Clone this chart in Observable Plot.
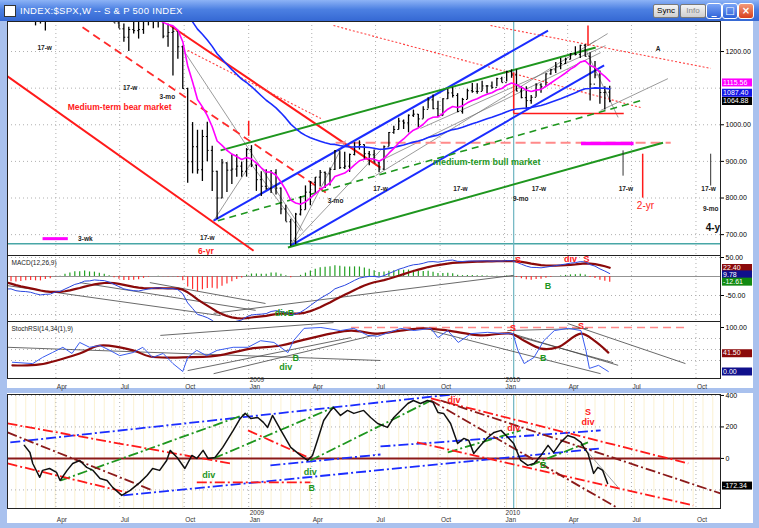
<!DOCTYPE html>
<html>
<head>
<meta charset="utf-8">
<script src="https://cdn.jsdelivr.net/npm/d3@7"></script>
<script src="https://cdn.jsdelivr.net/npm/@observablehq/plot@0.6"></script>
<style>
  html,body{margin:0;padding:0;}
  body{width:759px;height:528px;overflow:hidden;position:relative;background:#a9c1ee;font-family:"Liberation Sans",Arial,sans-serif;}
  .abs{position:absolute;}
  .win{position:absolute;background:#fff;}
  .btn{position:absolute;top:4px;height:12px;font:8px "Liberation Sans",Arial,sans-serif;line-height:12px;text-align:center;border:1px solid #7a7a7a;border-radius:2px;background:linear-gradient(#f4f4f4,#cfcfcf);color:#000;}
  .wbtn{position:absolute;top:3px;width:14px;height:14px;border:1px solid #fff;border-radius:3px;background:linear-gradient(#7aa4f6,#2d62d8);color:#fff;font:bold 10px "DejaVu Sans",sans-serif;text-align:center;line-height:14px;}
</style>
</head>
<body>
<div class="abs" style="left:0;top:0;width:759px;height:21px;background:linear-gradient(#8db3f6,#4c80e2 45%,#3568d3);"></div>
<div class="abs" style="left:4px;top:5px;width:10px;height:10px;background:#fff;border:1px solid #333;"></div>
<div class="abs" style="left:20px;top:5px;color:#fff;font:9.5px 'Liberation Sans',Arial,sans-serif;letter-spacing:0.3px;">INDEX:$SPX,W -- S &amp; P 500 INDEX</div>
<div class="btn" style="left:653px;width:24px;">Sync</div>
<div class="btn" style="left:680px;width:24px;color:#888;">Info</div>
<div class="wbtn" style="left:706px;">_</div>
<div class="wbtn" style="left:722px;">□</div>
<div class="wbtn" style="left:738px;background:linear-gradient(#f39a7a,#d8401c);">×</div>
<div class="win" style="left:7px;top:21px;width:746px;height:367px;"></div>
<div class="win" style="left:7px;top:393px;width:746px;height:130px;"></div>
<script>
// ---------------- DATA ----------------
// weekly closes used to warm up the averages (Jun-Dec 2007)
const closes2007 = [1503,1530,1552,1534,1459,1433,1453,1445,1479,1474,1454,1484,1525,1527,1557,1561,1501,1535,1509,1453,1458,1440,1481,1504,1468,1484,1478];
// weekly bars 2008
const highs2008 = [1471,1420,1405,1355,1396,1396,1368,1368,1389,1335,1321,1331,1353,1380,1378,1395,1404,1421,1422,1426,1440,1406,1405,1370,1372,1336,1285,1275,1266,1292,1285,1297,1313,1300,1304,1303,1275,1265,1255,1215,1100,1006,985,985,1007,941,873,905,896,919,918,898];
const lows2008  = [1411,1364,1313,1270,1322,1316,1320,1315,1331,1270,1275,1256,1312,1312,1330,1324,1373,1383,1385,1386,1373,1362,1360,1335,1317,1278,1262,1225,1200,1248,1234,1247,1270,1262,1264,1235,1212,1133,1179,1097,840,866,865,845,899,818,741,798,815,837,857,857];
const closes2008= [1411,1401,1325,1331,1396,1331,1349,1353,1331,1294,1288,1330,1316,1370,1332,1390,1398,1413,1388,1426,1375,1400,1361,1360,1318,1278,1262,1239,1260,1257,1260,1296,1298,1292,1283,1242,1252,1255,1213,1099,899,940,877,968,930,873,800,896,876,879,887,873];
// weekly bars 2009
const highs2009 = [935,943,890,872,877,875,877,827,780,742,758,804,833,845,856,875,871,882,930,926,925,920,951,956,945,927,931,898,942,979,996,1018,1013,1027,1040,1028,1049,1074,1081,1064,1071,1096,1101,1085,1072,1097,1113,1112,1119,1107,1117,1127,1130];
const lows2009  = [857,883,818,804,821,812,808,754,735,667,672,751,767,779,814,830,826,833,875,878,878,870,915,931,903,888,896,869,875,940,974,986,987,978,1020,991,1016,1043,1041,1019,1024,1069,1073,1033,1029,1069,1086,1083,1091,1085,1097,1104,1115];
const closes2009= [932,890,850,832,826,869,827,770,735,683,756,768,816,843,857,870,866,878,929,883,887,919,940,946,921,918,896,879,940,979,987,1010,1005,1026,1029,1016,1042,1068,1044,1025,1071,1087,1080,1036,1069,1093,1091,1091,1106,1106,1102,1126,1115];
// weekly bars 2010
const highs2010 = [1146,1150,1150,1104,1104,1080,1112,1112,1139,1151,1170,1181,1182,1194,1213,1217,1219,1197,1173,1147,1104,1105];
const lows2010  = [1117,1127,1090,1071,1044,1056,1075,1086,1105,1135,1140,1150,1165,1177,1188,1181,1185,1065,1126,1056,1040,1060];
const closes2010= [1145,1136,1092,1074,1066,1075,1109,1104,1139,1150,1160,1167,1179,1194,1192,1217,1187,1111,1136,1088,1089,1065];

// StochRSI
const stochFast = [["2008-01-30",21],["2008-02-28",18],["2008-03-13",32],["2008-03-27",43],["2008-04-11",55],["2008-04-24",41],["2008-05-05",66],["2008-05-19",55],["2008-06-03",59],["2008-06-17",48],["2008-07-01",36],["2008-07-20",43],["2008-08-03",55],["2008-08-17",32],["2008-09-01",41],["2008-09-15",18],["2008-09-29",0],["2008-10-06",32],["2008-10-19",48],["2008-11-02",36],["2008-11-17",48],["2008-12-10",55],["2008-12-31",55],["2009-01-18",70],["2009-02-06",66],["2009-02-26",43],["2009-03-06",70],["2009-03-21",98],["2009-04-14",100],["2009-05-12",93],["2009-05-31",98],["2009-06-20",82],["2009-07-04",80],["2009-08-06",98],["2009-08-25",93],["2009-09-18",98],["2009-09-28",77],["2009-10-12",93],["2009-10-27",66],["2009-11-14",86],["2009-12-08",89],["2009-12-31",86],["2010-01-13",86],["2010-01-20",48],["2010-01-29",18],["2010-02-12",32],["2010-02-26",70],["2010-03-13",93],["2010-04-02",98],["2010-04-20",93],["2010-04-27",48],["2010-05-02",7],["2010-05-15",14],["2010-05-29",0]];
const stochSlow = [["2008-01-30",14],["2008-03-09",16],["2008-05-05",41],["2008-06-03",59],["2008-07-20",48],["2008-08-13",34],["2008-09-29",32],["2008-11-17",36],["2009-01-04",52],["2009-02-16",59],["2009-03-16",70],["2009-04-28",86],["2009-05-27",93],["2009-07-04",86],["2009-08-06",93],["2009-09-08",98],["2009-10-12",93],["2009-11-28",82],["2010-01-10",86],["2010-01-29",70],["2010-02-22",52],["2010-03-18",55],["2010-04-20",86],["2010-05-09",70],["2010-05-29",43]];

// lower window oscillator
const oscValues = [["2008-02-16",83],["2008-02-24",38],["2008-02-28",-32],["2008-03-09",-120],["2008-03-13",-76],["2008-03-23",-64],["2008-04-02",-89],["2008-04-07",-140],["2008-04-17",-76],["2008-04-25",-32],["2008-05-05",-13],["2008-05-15",-57],["2008-05-24",-76],["2008-06-03",-127],["2008-06-13",-140],["2008-06-21",-184],["2008-07-04",-235],["2008-07-16",-203],["2008-07-30",-152],["2008-08-09",-108],["2008-08-17",-64],["2008-08-27",-76],["2008-09-06",-13],["2008-09-11",51],["2008-09-21",6],["2008-10-02",-64],["2008-10-12",19],["2008-10-19",0],["2008-10-28",51],["2008-11-04",0],["2008-11-14",6],["2008-11-25",70],["2008-12-10",178],["2008-12-20",254],["2008-12-27",286],["2009-01-04",254],["2009-01-14",260],["2009-01-22",229],["2009-01-28",197],["2009-02-04",273],["2009-02-16",178],["2009-03-02",70],["2009-03-16",19],["2009-03-26",-13],["2009-04-02",19],["2009-04-09",114],["2009-04-18",241],["2009-04-28",305],["2009-05-02",324],["2009-05-12",273],["2009-05-22",305],["2009-05-31",286],["2009-06-14",305],["2009-06-24",260],["2009-07-04",222],["2009-07-18",197],["2009-07-27",260],["2009-08-06",305],["2009-08-16",349],["2009-08-24",368],["2009-09-03",349],["2009-09-13",368],["2009-09-21",356],["2009-09-28",292],["2009-10-06",286],["2009-10-16",222],["2009-10-26",95],["2009-11-04",127],["2009-11-11",114],["2009-11-18",32],["2009-11-28",83],["2009-12-08",133],["2009-12-17",165],["2009-12-27",178],["2010-01-06",133],["2010-01-14",95],["2010-01-24",-13],["2010-02-03",-44],["2010-02-12",-32],["2010-02-22",19],["2010-03-04",83],["2010-03-12",38],["2010-03-22",102],["2010-04-01",146],["2010-04-10",133],["2010-04-20",102],["2010-04-24",70],["2010-04-30",32],["2010-05-08",-95],["2010-05-14",-57],["2010-05-21",-76],["2010-05-28",-159]];

// trendlines [date1, value1, date2, value2]
const priceRedSolid = [["2008-01-23",1132,"2009-01-08",656],["2008-09-11",1271,"2009-07-08",883]];
const priceRedDash = [["2008-05-09",1266,"2009-04-21",815]];
const priceRedDot = [["2008-10-06",1203,"2009-04-14",1017],["2009-05-02",1271,"2010-07-14",1047],["2009-12-12",1271,"2010-10-22",1154]];
const priceRedFlat = [["2010-01-14",1031,"2010-06-20",1031]];
const pricePinkDash = [["2009-05-05",951,"2010-08-26",951]];
const priceMagentaBar = [["2010-04-20",949,"2010-07-04",949]];
const priceLegend = [["2008-03-13",689,"2008-04-18",689]];
const priceBlue = [["2009-03-02",670,"2010-05-23",1162],["2008-11-12",738,"2010-03-04",1257]];
const priceGreen = [["2008-11-22",930,"2010-05-11",1211],["2009-02-26",665,"2010-08-15",951]];
const priceGreenDash = [["2008-11-18",738,"2010-07-14",1066]];
const priceGray = [["2008-10-03",1195,"2009-03-19",711],["2008-11-12",738,"2009-01-04",894],["2009-01-04",894,"2009-03-16",711],["2009-03-02",670,"2009-07-08",930],["2009-03-02",670,"2009-05-19",957],["2009-07-01",861,"2010-05-11",1230],["2009-07-08",902,"2010-05-18",1197],["2009-09-03",990,"2010-05-25",1216],["2010-04-27",1203,"2010-06-12",1020],["2010-05-18",1039,"2010-08-22",1126],["2010-04-30",1216,"2010-05-28",1249]];
const priceBlackTicks = [["2010-06-19",930,"2010-06-19",861],["2010-10-22",921,"2010-10-22",834]];
const priceRedTicks = [["2010-07-17",921,"2010-07-17",801],["2009-01-01",1011,"2009-01-01",970],["2010-01-14",1143,"2010-01-14",1031],["2010-04-30",1271,"2010-04-30",1216]];
const macdLines = [["2008-11-12",-97,"2010-01-14",3],["2008-01-23",-24,"2008-11-22",-103],["2008-05-05",-16,"2009-01-11",-89],["2008-08-13",-16,"2009-01-25",-71]];
const stochLines = [["2008-01-23",55,"2009-07-08",25],["2008-08-28",82,"2009-05-02",111],["2008-10-06",2,"2009-05-27",77],["2008-11-12",-5,"2009-07-08",86],["2010-01-05",89,"2010-06-12",14],["2010-01-14",82,"2010-06-05",20],["2010-04-01",109,"2010-09-16",18],["2009-09-18",93,"2010-05-18",-5],["2010-01-05",93,"2010-04-30",98]];
const stochPink = [["2009-05-27",100,"2010-09-16",100]];
const oscBlue = [["2008-01-27",102,"2009-11-14",419],["2008-07-06",-235,"2010-05-18",64],["2009-07-08",76,"2010-05-18",178],["2009-02-01",-44,"2009-07-08",25]];
const oscGreen = [["2008-04-08",-140,"2008-12-31",286],["2008-11-12",0,"2009-05-02",324],["2009-03-30",-13,"2009-09-18",368],["2009-10-12",38,"2010-01-24",178],["2010-02-07",-44,"2010-04-30",102]];
const oscRed = [["2008-01-23",222,"2008-12-06",-32],["2008-01-23",-32,"2008-07-11",-216],["2008-10-19",-152,"2009-03-30",-152],["2008-12-31",178,"2009-03-30",0],["2009-09-18",381,"2010-09-20",-32],["2009-08-29",102,"2010-09-27",-298]];
const oscMaroon = [["2008-01-23",165,"2008-08-17",-203],["2009-10-02",368,"2010-11-05",-222],["2009-09-18",368,"2010-06-12",-317]];
const oscGray = [["2010-04-30",38,"2010-06-12",-184]];

// annotations [date, value, text]
const priceNotes = [["2008-03-16",1211,"17-w"],["2008-07-16",1102,"17-w"],["2008-09-07",1077,"3-mo"],["2008-11-03",692,"17-w"],["2009-05-05",793,"3-mo"],["2009-07-08",826,"17-w"],["2009-10-30",826,"17-w"],["2010-02-19",826,"17-w"],["2010-06-23",826,"17-w"],["2010-10-19",826,"17-w"],["2010-01-24",798,"9-mo"],["2010-10-22",771,"9-mo"],["2008-05-13",689,"3-wk"],["2010-08-08",1208,"A"]];
const priceRedNotes = [["2008-07-01",1047,"Medium-term bear market"],["2008-11-01",654,"6-yr"]];
const priceRedBig = [["2010-07-21",779,"2-yr"]];
const priceBigNotes = [["2010-10-28",719,"4-yr"]];
const priceGreenNotes = [["2009-09-21",897,"medium-term bull market"]];
const macdRedNotes = [["2010-01-20",42,"S"],["2010-04-05",45,"div"],["2010-04-28",45,"S"]];
const macdGreenNotes = [["2010-03-04",-24,"B"],["2009-02-21",-97,"divB"]];
const stochRedNotes = [["2010-01-13",98,"S"],["2010-04-20",102,"S"]];
const stochGreenNotes = [["2010-02-25",30,"B"],["2009-03-09",30,"B"],["2009-02-23",9,"div"]];
const oscRedNotes = [["2009-10-21",368,"div"],["2010-01-14",190,"div"],["2010-04-30",292,"S"],["2010-04-30",229,"div"]];
const oscGreenNotes = [["2008-11-05",-108,"div"],["2009-03-30",-89,"div"],["2009-04-01",-190,"B"],["2010-02-25",-44,"B"]];

// axis ticks and value boxes
const priceGrid = [700,800,900,1000,1100,1200];
const priceTicks = [700,800,900,1000,1200];
const macdTicks = [50,-50];
const stochTicks = [100];
const oscGridLines = [400,200,-200];
const oscTicks = [400,200,0];
const priceBoxes = [{v:1115.56,t:"1115.56",bg:"#ff00ff"},{v:1087.40,t:"1087.40",bg:"#1414e6"},{v:1064.88,t:"1064.88",bg:"#000000"}];
const macdBoxes = [{v:22.40,t:"22.40",bg:"#8b0a0a"},{v:5.5,t:"9.78",bg:"#10108c"},{v:-13.5,t:"-12.61",bg:"#118a11"}];
const stochBoxes = [{v:41.50,t:"41.50",bg:"#8b0a0a"},{v:0,t:"0.00",bg:"#10108c"}];
const oscBoxes = [{v:-172.34,t:"-172.34",bg:"#000000"}];
const markerDate = "2010-01-14";

// ---------------- DERIVED ----------------
const weeks = d3.utcMonday.range(new Date(Date.UTC(2007,5,25)), new Date(Date.UTC(2010,5,1)));
const highs = [...highs2008,...highs2009,...highs2010];
const lows = [...lows2008,...lows2009,...lows2010];
const closes = [...closes2008,...closes2009,...closes2010];
const closesAll = [...closes2007,...closes];
const off = closes2007.length;
const ema = (vals,n)=>{const k=2/(n+1);let e;return vals.map((v,i)=> e = i ? k*v+(1-k)*e : v);};
const e12 = ema(closesAll,12), e26 = ema(closesAll,26);
const macdV = closesAll.map((c,i)=>e12[i]-e26[i]);
const sigV = ema(macdV,9);
const macdRows = weeks.map((d,i)=>({date:d,macd:macdV[i],sig:sigV[i],hist:macdV[i]-sigV[i]})).slice(off-2);
const e9 = ema(closesAll,9), e40 = ema(closesAll,40);
const maRows = weeks.map((d,i)=>({date:d,fast:e9[i],slow:e40[i]})).slice(off-2);
const bars = highs.map((h,i)=>({date:weeks[i+off],high:h,low:lows[i],close:closes[i],open:closesAll[i+off-1]}));

const xDomain = [new Date("2008-01-23"), new Date("2010-11-05")];
const qTicks = d3.utcMonth.every(3).range(new Date("2008-04-01"), new Date("2010-11-01"));
const fmtM = d3.utcFormat("%b");
const qLabel = d => d.getUTCMonth()===0 ? `${d.getUTCFullYear()}\n${fmtM(d)}` : fmtM(d);
const S = arr => arr.map(([a,b,c,e])=>({x1:new Date(a),y1:b,x2:new Date(c),y2:e}));
const T = arr => arr.map(([d,v,t])=>({x:new Date(d),y:v,t}));
const P = arr => arr.map(([d,v])=>({x:new Date(d),y:v}));
const seg = (arr,o)=>Plot.link(S(arr),{x1:"x1",y1:"y1",x2:"x2",y2:"y2",clip:true,...o});
const note = (arr,o)=>Plot.text(T(arr),{x:"x",y:"y",text:"t",clip:true,fontFamily:"Liberation Sans, Arial, sans-serif",...o});
const grid = () => Plot.ruleX(qTicks,{stroke:"#b0b0b0",strokeDasharray:"1,3"});
const teal = () => Plot.ruleX([new Date(markerDate)],{stroke:"#6db5c0",strokeWidth:1.2});
const FONT = "Liberation Sans, Arial, sans-serif";
const style = {background:"transparent",fontFamily:FONT,fontSize:"7px",overflow:"visible"};

function place(svg,left,top){const d=document.createElement("div");d.className="abs";d.style.left=left+"px";d.style.top=top+"px";d.appendChild(svg);document.body.appendChild(d);}
function panel(top,height,yDomain,marks,mb=0){
  place(Plot.plot({width:746,height,marginLeft:0,marginRight:33,marginTop:0,marginBottom:mb,
    x:{type:"utc",domain:xDomain,axis:null},y:{domain:yDomain,axis:null},style,marks}),7,top);
}
function boxes(top,height,yDomain,items,mb=0){
  place(Plot.plot({width:32,height,margin:0,marginBottom:mb,x:{domain:[0,1],axis:null},y:{domain:yDomain,axis:null},style,
    marks:[Plot.ruleY(items,{y:"v",x1:0.03,x2:0.97,stroke:"bg",strokeWidth:8}),
           Plot.text(items,{y:"v",x:0.05,text:"t",fill:"white",textAnchor:"start",fontSize:7,fontFamily:FONT})]}),721,top);
}
const axisR = (ticks,fmt)=>Plot.axisY(ticks,{anchor:"right",tickSize:3,tickPadding:2,fontSize:7,tickFormat:fmt,fontFamily:FONT});

// ---------------- PRICE PANEL ----------------
const priceDom = [643,1282];
panel(21,234,priceDom,[
  Plot.ruleY(priceGrid,{stroke:"#b0b0b0",strokeDasharray:"1,3"}),
  grid(),
  Plot.ruleY([675],{stroke:"#48a6a6",strokeWidth:1.5}),
  teal(),
  seg(priceGray,{stroke:"#707070",strokeWidth:0.7}),
  seg(priceRedSolid,{stroke:"#ff1a1a",strokeWidth:2}),
  seg(priceRedDash,{stroke:"#ff2a2a",strokeWidth:1.8,strokeDasharray:"8,5"}),
  seg(priceRedDot,{stroke:"#ff4040",strokeWidth:1.1,strokeDasharray:"2,2"}),
  seg(pricePinkDash,{stroke:"#ff8a8a",strokeWidth:2,strokeDasharray:"10,5"}),
  seg(priceMagentaBar,{stroke:"#ff00ff",strokeWidth:3.5}),
  seg(priceRedFlat,{stroke:"#ff1a1a",strokeWidth:1.5}),
  seg(priceBlue,{stroke:"#1a2cff",strokeWidth:2}),
  seg(priceGreen,{stroke:"#1e961e",strokeWidth:2}),
  seg(priceGreenDash,{stroke:"#1e961e",strokeWidth:1.6,strokeDasharray:"7,5"}),
  seg(priceBlackTicks,{stroke:"#333",strokeWidth:1}),
  seg(priceRedTicks,{stroke:"#ff1a1a",strokeWidth:1.5}),
  seg(priceLegend,{stroke:"#ff00ff",strokeWidth:3}),
  Plot.ruleX(bars,{x:"date",y1:"low",y2:"high",stroke:"#000",strokeWidth:1.3,clip:true}),
  Plot.link(bars,{x1:d=>d3.utcDay.offset(d.date,-2),x2:"date",y1:"open",y2:"open",stroke:"#000",strokeWidth:1,clip:true}),
  Plot.link(bars,{x1:"date",x2:d=>d3.utcDay.offset(d.date,2),y1:"close",y2:"close",stroke:"#000",strokeWidth:1,clip:true}),
  Plot.line(maRows,{x:"date",y:"slow",stroke:"#1a2cff",strokeWidth:1.6,clip:true}),
  Plot.line(maRows,{x:"date",y:"fast",stroke:"#ff00ff",strokeWidth:1.6,clip:true}),
  note(priceNotes,{fontSize:6.5,fontWeight:"bold",fill:"#222"}),
  note(priceRedNotes,{fontSize:8.5,fontWeight:"bold",fill:"#ff2020"}),
  note(priceRedBig,{fontSize:10,fill:"#ff2020"}),
  note(priceBigNotes,{fontSize:10,fontWeight:"bold",fill:"#111"}),
  note(priceGreenNotes,{fontSize:9,fontWeight:"bold",fill:"#1e961e",textAnchor:"start"}),
  axisR(priceTicks,d=>d.toFixed(2)),
  Plot.frame({stroke:"#222"})
]);
boxes(21,234,priceDom,priceBoxes);

// ---------------- MACD PANEL ----------------
const macdDom = [-118.4,55.3];
panel(255,66,macdDom,[
  Plot.ruleY([-100,-50,50],{stroke:"#b0b0b0",strokeDasharray:"1,3"}),
  grid(),
  teal(),
  Plot.ruleY([0],{stroke:"#777",strokeWidth:0.8}),
  Plot.ruleX(macdRows,{x:"date",y1:0,y2:"hist",stroke:d=>d.hist>=0?"#22a022":"#ff3030",strokeWidth:1.2,clip:true}),
  seg(macdLines,{stroke:"#444",strokeWidth:0.8}),
  Plot.line(macdRows,{x:"date",y:"sig",stroke:"#8b0a0a",strokeWidth:2.2,clip:true}),
  Plot.line(macdRows,{x:"date",y:"macd",stroke:"#2a46e0",strokeWidth:1,clip:true}),
  note(macdRedNotes,{fontSize:9,fontWeight:"bold",fill:"#ff2020"}),
  note(macdGreenNotes,{fontSize:9,fontWeight:"bold",fill:"#1e961e"}),
  Plot.text(["MACD(12,26,9)"],{frameAnchor:"top-left",dx:4,dy:5,fontSize:6.5,fill:"#222"}),
  axisR(macdTicks,d=>d.toFixed(2)),
  Plot.frame({stroke:"#222"})
]);
boxes(255,66,macdDom,macdBoxes);

// ---------------- STOCH RSI PANEL ----------------
const stochDom = [-15.9,113.6];
panel(321,67,stochDom,[
  Plot.ruleY([25,50,75],{stroke:"#b0b0b0",strokeDasharray:"1,3"}),
  grid(),
  teal(),
  seg(stochPink,{stroke:"#ff8a8a",strokeWidth:1.6,strokeDasharray:"8,5"}),
  seg(stochLines,{stroke:"#444",strokeWidth:0.8}),
  Plot.line(P(stochSlow),{x:"x",y:"y",stroke:"#8b0a0a",strokeWidth:2.2,curve:"catmull-rom",clip:true}),
  Plot.line(P(stochFast),{x:"x",y:"y",stroke:"#3a5cf0",strokeWidth:1,clip:true}),
  note(stochRedNotes,{fontSize:9,fontWeight:"bold",fill:"#ff2020"}),
  note(stochGreenNotes,{fontSize:9,fontWeight:"bold",fill:"#1e961e"}),
  Plot.text(["StochRSI(14,34(1),9)"],{frameAnchor:"top-left",dx:4,dy:5,fontSize:6.5,fill:"#222"}),
  Plot.text(qTicks,{x:d=>d,text:qLabel,frameAnchor:"bottom",dy:10,dx:1,lineAnchor:"bottom",lineHeight:0.95,textAnchor:"start",fontSize:6.5,fill:"#333"}),
  axisR(stochTicks,d=>d.toFixed(2)),
  Plot.frame({stroke:"#222"})
],10);
boxes(321,67,stochDom,stochBoxes,10);

// ---------------- LOWER WINDOW ----------------
const oscDom = [-318,406];
panel(394,128,oscDom,[
  Plot.ruleX(d3.utcMonday.every(2).range(xDomain[0],xDomain[1]),{stroke:"#fbf1d2",strokeWidth:1}),
  Plot.ruleY(oscGridLines,{stroke:"#b0b0b0",strokeDasharray:"1,3"}),
  grid(),
  teal(),
  Plot.ruleY([0],{stroke:"#8b1a1a",strokeWidth:2}),
  seg(oscGray,{stroke:"#888",strokeWidth:0.8}),
  seg(oscBlue,{stroke:"#1a2cff",strokeWidth:1.8,strokeDasharray:"10,3,2,3"}),
  seg(oscGreen,{stroke:"#1e961e",strokeWidth:1.8,strokeDasharray:"10,3,2,3"}),
  seg(oscRed,{stroke:"#ff1a1a",strokeWidth:1.8,strokeDasharray:"10,3,2,3"}),
  seg(oscMaroon,{stroke:"#8b1a1a",strokeWidth:1.8,strokeDasharray:"10,3,2,3"}),
  Plot.line(P(oscValues),{x:"x",y:"y",stroke:"#111",strokeWidth:1.5,clip:true}),
  note(oscRedNotes,{fontSize:9,fontWeight:"bold",fill:"#ff2020"}),
  note(oscGreenNotes,{fontSize:9,fontWeight:"bold",fill:"#1e961e"}),
  Plot.text(qTicks,{x:d=>d,text:qLabel,frameAnchor:"bottom",dy:13,dx:1,lineAnchor:"bottom",lineHeight:0.95,textAnchor:"start",fontSize:6.5,fill:"#333"}),
  axisR(oscTicks,d=>String(d)),
  Plot.frame({stroke:"#222"})
],14);
boxes(394,128,oscDom,oscBoxes,14);
</script>
</body>
</html>
